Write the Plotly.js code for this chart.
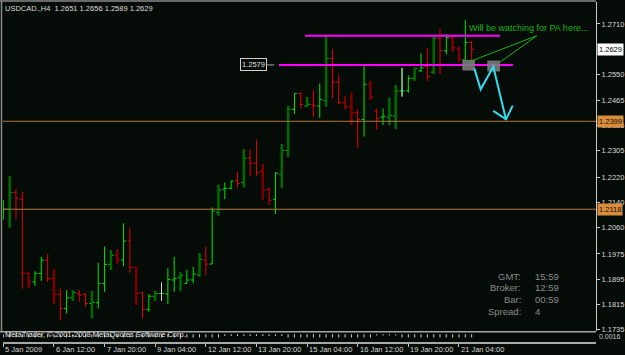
<!DOCTYPE html>
<html><head><meta charset="utf-8">
<script src="https://cdn.plot.ly/plotly-3.0.1.min.js"></script>
<style>html,body{margin:0;padding:0;background:#050b07;}#chart{width:625px;height:355px;}</style>
</head><body><div id="chart"></div>
<script>
// ---- DATA (USDCAD H4) ----
const openP  = [1.2109,1.2118,1.2172,1.2150,1.1913,1.1886,1.1913,1.1955,1.1896,1.1846,
                1.1801,1.1835,1.1849,1.1846,1.1817,1.1819,1.1881,1.1942,1.1972,1.1956,
                1.2019,1.1932,1.1851,1.1798,1.1840,1.1849,1.1847,1.1892,1.1900,1.1881,
                1.1892,1.1908,1.1956,1.1943,1.2108,1.2182,1.2185,1.2211,1.2203,1.2281,
                1.2265,1.2240,1.2182,1.2150,1.2230,1.2306,1.2437,1.2488,1.2448,1.2453,
                1.2448,1.2465,1.2600,1.2524,1.2458,1.2444,1.2426,1.2405,1.2518,1.2432,
                1.2412,1.2412,1.2416,1.2496,1.2496,1.2536,1.2560,1.2574,1.2556,1.2664,
                1.2624,1.2666,1.2630,1.2595,1.2651];
const highP  = [1.2147,1.2224,1.2182,1.2173,1.1916,1.1920,1.1966,1.1975,1.1927,1.1866,
                1.1860,1.1860,1.1860,1.1851,1.1857,1.1947,1.1999,1.1987,1.1990,1.2073,
                1.2060,1.1934,1.1854,1.1847,1.1857,1.1884,1.1929,1.1966,1.1916,1.1924,
                1.1934,1.1977,1.1999,1.2124,1.2196,1.2203,1.2209,1.2237,1.2310,1.2310,
                1.2341,1.2262,1.2185,1.2236,1.2326,1.2448,1.2488,1.2492,1.2476,1.2499,
                1.2520,1.2672,1.2630,1.2547,1.2480,1.2490,1.2437,1.2576,1.2528,1.2440,
                1.2440,1.2474,1.2515,1.2570,1.2545,1.2570,1.2616,1.2632,1.2669,1.2694,
                1.2678,1.2669,1.2637,1.2723,1.2656];
const lowP   = [1.2085,1.2060,1.2086,1.1864,1.1866,1.1873,1.1889,1.1886,1.1815,1.1763,
                1.1785,1.1825,1.1823,1.1806,1.1770,1.1801,1.1854,1.1924,1.1944,1.1936,
                1.1915,1.1812,1.1769,1.1790,1.1825,1.1825,1.1815,1.1854,1.1857,1.1879,
                1.1881,1.1902,1.1908,1.1943,1.2098,1.2150,1.2182,1.2187,1.2188,1.2224,
                1.2225,1.2147,1.2132,1.2103,1.2187,1.2286,1.2422,1.2439,1.2446,1.2413,
                1.2410,1.2446,1.2472,1.2454,1.2437,1.2387,1.2313,1.2350,1.2467,1.2373,
                1.2387,1.2387,1.2374,1.2478,1.2490,1.2529,1.2556,1.2528,1.2550,1.2550,
                1.2613,1.2621,1.2589,1.2595,1.2589];
const closeP = [1.2118,1.2172,1.2153,1.1913,1.1886,1.1913,1.1955,1.1896,1.1846,1.1801,
                1.1835,1.1852,1.1844,1.1817,1.1820,1.1881,1.1942,1.1971,1.1958,1.2016,
                1.1932,1.1849,1.1798,1.1840,1.1849,1.1849,1.1894,1.1897,1.1907,1.1892,
                1.1911,1.1958,1.1943,1.2112,1.2179,1.2185,1.2208,1.2201,1.2281,1.2265,
                1.2235,1.2179,1.2147,1.2233,1.2306,1.2438,1.2488,1.2453,1.2453,1.2448,
                1.2469,1.2600,1.2524,1.2458,1.2445,1.2426,1.2405,1.2517,1.2476,1.2409,
                1.2415,1.2418,1.2496,1.2496,1.2536,1.2568,1.2570,1.2542,1.2664,1.2624,
                1.2666,1.2634,1.2597,1.2651,1.2629];
// bars highlighted by the indicator overlay (dark thick bars)
const shadedBars = [1,4,8,11,14,17,18,21,24,28,31,34,38,41,44,45,48,51,55,58,61,62,65,68,71,72];
// lower sub-window indicator marks
const indValues = [-1,-1,-1,-1,-1,-1,-1,-1,-1,-1,-1,-1,-1,-1,-1,-1,-1,-1,-1,-1,
                   -1,-1,-1,-1,-1,-1,-1,-1,-1,-1,-1,-1,-1,-1,-1,-0.5,-0.5,-0.5,-0.5,-0.5,
                   -0.5,-0.5,-0.5,-0.5,-0.5,-1,-1,-1,-1,-1,-1,-1,-1,-1,-1,-1,-1,-1,-1,-0.4,
                   -0.4,-0.4,-0.4,-1,-1,-1,-1,-1,-1,-1,-1,-1,-1,-1,-1];
const timeTickBars = [0,8,16,24,32,40,48,56,64,72];
const timeTickText = ["5 Jan 2009","6 Jan 12:00","7 Jan 20:00","9 Jan 04:00","12 Jan 12:00",
                      "13 Jan 20:00","15 Jan 04:00","16 Jan 12:00","19 Jan 20:00","21 Jan 04:00"];
const priceTicks = [1.2710,1.2550,1.2465,1.2385,1.2305,1.2220,1.2140,1.2060,1.1975,1.1895,1.1815,1.1735];
const hLines = [1.2399, 1.2118];
const currentBid = 1.2629;
const supportLevel = 1.2579;
const resistLevel = 1.2672;
const titleText = "USDCAD.,H4  1.2651 1.2656 1.2589 1.2629";
const noteText = "Will be watching for PA here...";
const infoLabels = ["GMT:","Broker:","Bar:","Spread:"];
const infoValues = ["15:59","12:59","00:59","4"];

// ---- CHART ----
const FONT = '"Liberation Sans", Arial, sans-serif';
const xIdx = openP.map((_, i) => i);
const pick = (arr, idx) => idx.map(i => arr[i]);
const dojiBars = xIdx.filter(i => openP[i] === closeP[i]);
let dojiGap = 1;
if (dojiBars.length > 1) { dojiGap = Infinity; for (let k = 1; k < dojiBars.length; k++) dojiGap = Math.min(dojiGap, dojiBars[k]-dojiBars[k-1]); }

const traces = [
  {type:'ohlc', x:xIdx, open:openP, high:highP, low:lowP, close:closeP, tickwidth:0.4,
   line:{width:1}, increasing:{line:{color:'#00e400', width:1}}, decreasing:{line:{color:'#e80000', width:1}},
   hoverinfo:'none', showlegend:false},
  {type:'ohlc', x:shadedBars, open:pick(openP,shadedBars), high:pick(highP,shadedBars), low:pick(lowP,shadedBars), close:pick(closeP,shadedBars),
   tickwidth:0, line:{width:2.5}, increasing:{line:{color:'#006a00', width:2.5}}, decreasing:{line:{color:'#7c0000', width:2.5}},
   hoverinfo:'none', showlegend:false},
  {type:'ohlc', x:dojiBars, open:pick(openP,dojiBars), high:pick(highP,dojiBars), low:pick(lowP,dojiBars), close:pick(closeP,dojiBars),
   tickwidth:0.4/dojiGap, line:{width:1}, increasing:{line:{color:'#d8d8d8', width:1}}, decreasing:{line:{color:'#d8d8d8', width:1}},
   hoverinfo:'none', showlegend:false},
  {type:'bar', x:xIdx, y:indValues, yaxis:'y2', width:0.16, marker:{color:'#d0d0d0', line:{width:0}}, hoverinfo:'none', showlegend:false}
];

// pixel helpers for screen-fixed decorations (plot area: x 3..596, y 2..342)
const PX = px => (px - 3) / 593;
const PY = py => (342 - py) / 340;

const shapes = [];
hLines.forEach(v => shapes.push({type:'line', xref:'paper', yref:'y', x0:0, x1:1, y0:v, y1:v, line:{color:'#b07840', width:1}}));
shapes.push({type:'line', xref:'x', yref:'y', x0:47.67, x1:78.48, y0:resistLevel, y1:resistLevel, line:{color:'#ff00ff', width:2}});
shapes.push({type:'line', xref:'x', yref:'y', x0:43.56, x1:80.53, y0:supportLevel, y1:supportLevel, line:{color:'#ff00ff', width:2}});
shapes.push({type:'line', xref:'x', yref:'y', x0:41.3, x1:42.8, y0:supportLevel, y1:supportLevel, line:{color:'#a0a0a0', width:1}});
shapes.push({type:'rect', xref:'x', yref:'y', x0:72.52, x1:74.52, y0:1.2561, y1:1.2595, fillcolor:'#7a7a7a', opacity:0.9, line:{width:0}});
shapes.push({type:'rect', xref:'x', yref:'y', x0:76.47, x1:78.48, y0:1.2558, y1:1.2593, fillcolor:'#7a7a7a', opacity:0.9, line:{width:0}});
shapes.push({type:'line', xref:'x', yref:'y', x0:84.27, y0:1.2672, x1:73.47, y1:1.2588, line:{color:'#18b418', width:1}});
shapes.push({type:'line', xref:'x', yref:'y', x0:84.27, y0:1.2672, x1:78.37, y1:1.2586, line:{color:'#18b418', width:1}});
shapes.push({type:'path', xref:'x', yref:'y', path:'M74.42,1.2568 L75.43,1.2501 L77.42,1.2573 L79.43,1.2405', line:{color:'#33dcef', width:2}});
shapes.push({type:'path', xref:'x', yref:'y', path:'M77.42,1.2432 L79.43,1.2405 L80.49,1.2449', line:{color:'#33dcef', width:2}});
// frame lines
shapes.push({type:'line', xref:'paper', yref:'paper', x0:PX(0), x1:1, y0:PY(1), y1:PY(1), line:{color:'#8a8a8a', width:1.5}});
shapes.push({type:'line', xref:'paper', yref:'paper', x0:PX(1.5), x1:PX(1.5), y0:PY(1), y1:PY(331.5), line:{color:'#8a8a8a', width:1.5}});
shapes.push({type:'line', xref:'paper', yref:'paper', x0:PX(0), x1:1, y0:PY(331.8), y1:PY(331.8), line:{color:'#a8a8a8', width:1.5}});

const annotations = [];
annotations.push({xref:'x', yref:'y', x:39.5, y:supportLevel, text:supportLevel.toFixed(4), showarrow:false,
  font:{family:FONT, size:7.5, color:'#e0e0e0'}, bgcolor:'#050b07', bordercolor:'#d0d0d0', borderwidth:1, borderpad:1});
annotations.push({xref:'paper', yref:'y', x:1, xanchor:'left', xshift:1, y:currentBid, text:currentBid.toFixed(4), showarrow:false,
  font:{family:FONT, size:7.5, color:'#000000'}, bgcolor:'#ffffff', borderpad:1});
hLines.forEach(v => annotations.push({xref:'paper', yref:'y', x:1, xanchor:'left', xshift:1, y:v, text:v.toFixed(4), showarrow:false,
  font:{family:FONT, size:7.5, color:'#1a0d00'}, bgcolor:'#d88c3c', borderpad:1}));
annotations.push({xref:'paper', yref:'paper', x:PX(467), xanchor:'left', y:PY(28), yanchor:'middle', text:noteText, showarrow:false,
  font:{family:FONT, size:9, color:'#18b418'}});
const infoRows = [276, 287.7, 299.4, 311.5];
infoLabels.forEach((t, k) => {
  annotations.push({xref:'paper', yref:'paper', x:PX(522.5), xanchor:'right', y:PY(infoRows[k]), yanchor:'middle', text:t, showarrow:false,
    font:{family:FONT, size:9.5, color:'#8c8c8c'}});
  annotations.push({xref:'paper', yref:'paper', x:PX(532.5), xanchor:'left', y:PY(infoRows[k]), yanchor:'middle', text:infoValues[k], showarrow:false,
    font:{family:FONT, size:9.5, color:'#8c8c8c'}});
});
annotations.push({xref:'paper', yref:'paper', x:PX(3), xanchor:'left', y:PY(334.5), yanchor:'middle', text:'MetaTrader, © 2001-2008 MetaQuotes Software Corp.', showarrow:false,
  font:{family:FONT, size:7.5, color:'#e8e8e8'}});
annotations.push({xref:'paper', yref:'paper', x:1, xanchor:'left', xshift:1, y:PY(336), yanchor:'middle', text:'0.0016', showarrow:false,
  font:{family:FONT, size:7, color:'#c8c8c8'}});
// time-axis labels, left-aligned just right of each tick (as in the MetaTrader axis)
timeTickBars.forEach((b, k) => annotations.push({xref:'x', yref:'paper', x:b, xanchor:'left', xshift:0, y:PY(349), yanchor:'middle',
  text:timeTickText[k], showarrow:false, font:{family:FONT, size:7.5, color:'#d8d8d8'}}));

const layout = {
  width:625, height:355,
  margin:{l:3, r:29, t:2, b:13, pad:0},
  paper_bgcolor:'#050b07', plot_bgcolor:'#050b07',
  font:{family:FONT, size:7.5, color:'#d8d8d8'},
  title:{text:titleText, x:5/625, xanchor:'left', xref:'container', y:1-8/355, yanchor:'middle', yref:'container',
         font:{family:FONT, size:7.5, color:'#dcdcdc'}},
  showlegend:false, dragmode:false, hovermode:false,
  xaxis:{type:'linear', range:[-0.05, 93.65], anchor:'y2', tickmode:'array', tickvals:timeTickBars, ticktext:timeTickBars.map(() => ''),
         ticks:'outside', ticklen:3, tickcolor:'#c0c0c0',
         showline:true, linecolor:'#a8a8a8', linewidth:1.5,
         showgrid:false, zeroline:false, rangeslider:{visible:false}, fixedrange:true, automargin:false},
  yaxis:{domain:[11/340, 1], range:[1.1729, 1.2780], side:'right', anchor:'x', tickmode:'array', tickvals:priceTicks, tickformat:'.4f',
         ticks:'outside', ticklen:3, tickcolor:'#c8c8c8', tickfont:{family:FONT, size:7.5, color:'#d8d8d8'},
         showline:true, linecolor:'#c8c8c8', linewidth:1, showgrid:false, zeroline:false, fixedrange:true, automargin:false},
  yaxis2:{domain:[0, 9/340], range:[-2.4, 0.4], visible:false, fixedrange:true},
  shapes:shapes, annotations:annotations
};
Plotly.newPlot('chart', traces, layout, {staticPlot:true, displayModeBar:false});
</script></body></html>
